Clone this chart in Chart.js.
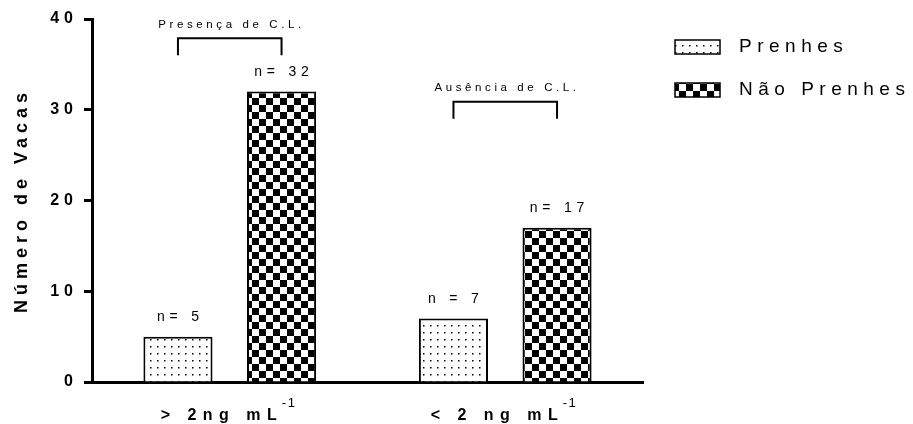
<!DOCTYPE html>
<html>
<head>
<meta charset="utf-8">
<script src="https://cdn.jsdelivr.net/npm/chart.js@4.4.0/dist/chart.umd.min.js"></script>
<style>
  html, body { margin: 0; padding: 0; background: #fff; }
</style>
</head>
<body>
<canvas id="myChart" width="913" height="424"></canvas>
<script>
// chart data
const categories = ['> 2ng mL', '< 2 ng mL'];
const categorySup = ['-1', '-1'];
const seriesNames = ['Prenhes', 'Não Prenhes'];
const prenhes = [5, 7];
const naoPrenhes = [32, 17];
const nLabelsPrenhes = ['n= 5', 'n = 7'];
const nLabelsNaoPrenhes = ['n= 32', 'n= 17'];
const bracketLabels = ['Presença de C.L.', 'Ausência de C.L.'];
const bracketLevels = [36, 29]; // y value where the bracket legs end
const yTicks = [0, 10, 20, 30, 40];

const FONT = '"Liberation Sans", Arial, sans-serif';

// fill patterns
function dotPattern() {
    const c = document.createElement('canvas');
    c.width = 7; c.height = 7;
    const g = c.getContext('2d');
    g.fillStyle = '#fff';
    g.fillRect(0, 0, 7, 7);
    g.fillStyle = '#000';
    g.fillRect(3, 3, 1.5, 1.5);
    return g.createPattern(c, 'repeat');
}
function checkerPattern() {
    const c = document.createElement('canvas');
    c.width = 14; c.height = 14;
    const g = c.getContext('2d');
    g.fillStyle = '#fff';
    g.fillRect(0, 0, 14, 14);
    g.fillStyle = '#000';
    g.fillRect(0, 0, 7, 7);
    g.fillRect(7, 7, 7, 7);
    return g.createPattern(c, 'repeat');
}

// draws text with letter spacing, returns visible width
function spaced(ctx, text, x, y, font, sp, align) {
    ctx.font = font;
    ctx.letterSpacing = '0px';
    const w = ctx.measureText(text).width + sp * (text.length - 1);
    let x0 = x;
    if (align === 'center') x0 = x - w / 2;
    ctx.letterSpacing = sp + 'px';
    ctx.textAlign = 'left';
    ctx.fillText(text, x0, y);
    ctx.letterSpacing = '0px';
    return w;
}

// wide letter spacing for the axis text drawn by Chart.js
const spacingPlugin = {
    id: 'spacing',
    beforeDraw(chart) { chart.ctx.letterSpacing = '5px'; },
    beforeDatasetsDraw(chart) { chart.ctx.letterSpacing = '0px'; }
};

const extrasPlugin = {
    id: 'extras',
    afterDraw(chart) {
        const ctx = chart.ctx;
        const y = chart.scales.y;
        const x = chart.scales.x;
        const m0 = chart.getDatasetMeta(0).data;
        const m1 = chart.getDatasetMeta(1).data;
        ctx.save();
        ctx.fillStyle = '#000';
        ctx.strokeStyle = '#000';
        ctx.textBaseline = 'middle';

        // n labels above bars
        m0.forEach((bar, i) => spaced(ctx, nLabelsPrenhes[i], bar.x, bar.y - 19.5, '14px ' + FONT, 4.8, 'center'));
        m1.forEach((bar, i) => spaced(ctx, nLabelsNaoPrenhes[i], bar.x, bar.y - 19.5, '14px ' + FONT, 4.8, 'center'));

        // brackets
        ctx.lineWidth = 2;
        bracketLabels.forEach((lab, i) => {
            const xl = m0[i].x, xr = m1[i].x;
            const yb = y.getPixelForValue(bracketLevels[i]);
            const yt = yb - 17;
            ctx.beginPath();
            ctx.moveTo(xl, yb);
            ctx.lineTo(xl, yt);
            ctx.lineTo(xr, yt);
            ctx.lineTo(xr, yb);
            ctx.stroke();
            spaced(ctx, lab, (xl + xr) / 2, yt - 13.5, '11.5px ' + FONT, 3.6, 'center');
        });

        // category labels with superscript
        ctx.textBaseline = 'alphabetic';
        categories.forEach((lab, i) => {
            const cx = x.getPixelForValue(i) - 2;
            const mainFont = 'bold 16px ' + FONT;
            const supFont = '13px ' + FONT;
            ctx.font = mainFont;
            const wm = ctx.measureText(lab).width + 6.5 * (lab.length - 1);
            ctx.font = supFont;
            const ws = ctx.measureText(categorySup[i]).width + 1.5;
            const total = wm + 5 + ws;
            const x0 = cx - total / 2;
            spaced(ctx, lab, x0, 420, mainFont, 6.5, 'left');
            spaced(ctx, categorySup[i], x0 + wm + 5, 407, supFont, 1.5, 'left');
        });

        // legend
        ctx.textBaseline = 'middle';
        chart.data.datasets.forEach((ds, i) => {
            const by = 40 + i * 43;
            ctx.fillStyle = ds.backgroundColor;
            ctx.fillRect(675, by, 45, 14);
            ctx.lineWidth = 1.5;
            ctx.strokeRect(675, by, 45, 14);
            ctx.fillStyle = '#000';
            spaced(ctx, ds.label, 739, by + 7, '19px ' + FONT, 5.5, 'left');
        });
        ctx.restore();
    }
};

const ctx = document.getElementById('myChart').getContext('2d');
const chart = new Chart(ctx, {
    type: 'bar',
    data: {
        labels: categories,
        datasets: [{
            label: seriesNames[0],
            data: prenhes,
            backgroundColor: dotPattern(),
            borderColor: '#000',
            borderWidth: 2
        }, {
            label: seriesNames[1],
            data: naoPrenhes,
            backgroundColor: checkerPattern(),
            borderColor: '#000',
            borderWidth: 2
        }]
    },
    options: {
        responsive: false,
        animation: false,
        categoryPercentage: 0.752,
        barPercentage: 0.667,
        layout: { padding: { left: 0, right: 270, top: 19, bottom: 0 } },
        plugins: {
            legend: { display: false },
            tooltip: { enabled: false }
        },
        scales: {
            x: {
                afterFit: s => { s.height = 42; },
                grid: { display: false },
                border: { display: true, color: '#000', width: 3 },
                ticks: { display: false }
            },
            y: {
                min: 0,
                max: 40,
                afterFit: s => { s.width = 92; },
                afterBuildTicks: s => { s.ticks = yTicks.map(v => ({ value: v })); },
                grid: {
                    drawOnChartArea: false,
                    drawTicks: true,
                    tickLength: 8,
                    tickWidth: 3,
                    tickColor: '#000'
                },
                border: { display: true, color: '#000', width: 3 },
                ticks: {
                    color: '#000',
                    padding: 6,
                    font: { family: FONT, size: 16, weight: 'bold' }
                },
                title: {
                    display: true,
                    text: 'Número de Vacas',
                    color: '#000',
                    padding: { top: 11, bottom: 0 },
                    font: { family: FONT, size: 18, weight: 'bold' }
                }
            }
        }
    },
    plugins: [spacingPlugin, extrasPlugin]
});
</script>
</body>
</html>
